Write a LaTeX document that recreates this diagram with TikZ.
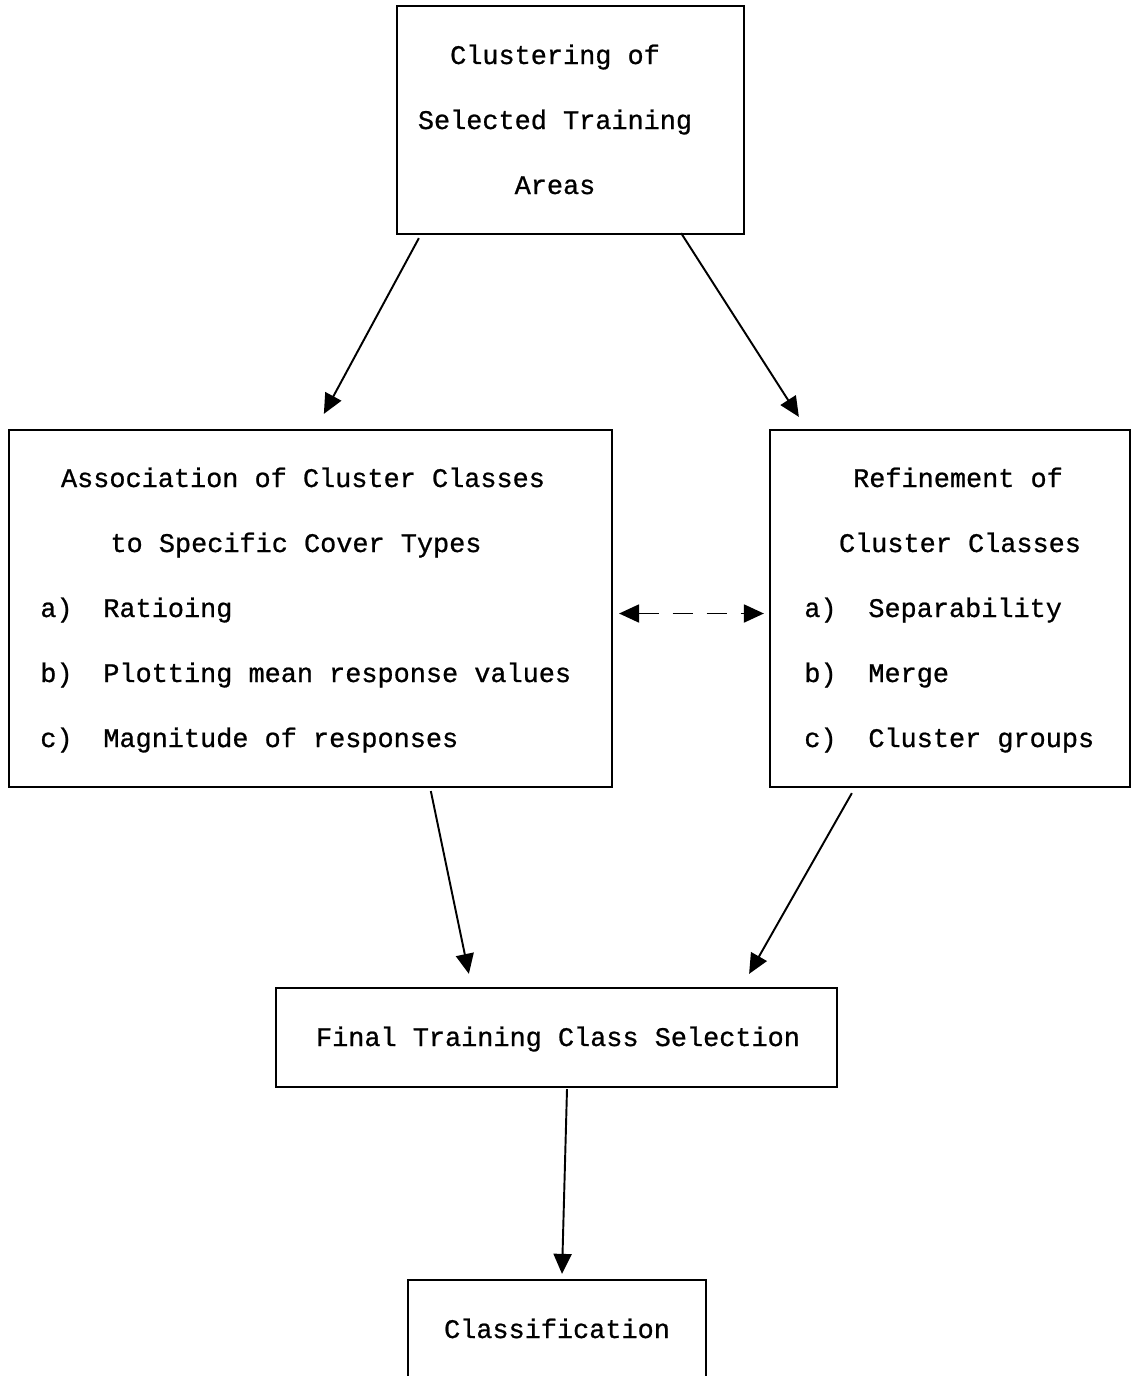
\documentclass[tikz,border=0pt]{standalone}
\usepackage{fontspec}
\setmainfont{Liberation Mono}[UprightFeatures={FakeBold=0.8}]
\usetikzlibrary{arrows.meta}
\tikzset{
  box/.style={draw, line width=1.3pt, inner sep=0pt},
  txt/.style={anchor=base, inner sep=0pt, font=\fontsize{15.3}{18}\selectfont},
  item/.style={txt, anchor=base west},
  flow/.style={line width=1.1pt, -{Triangle[length=0.4cm,width=0.36cm]}},
}
\begin{document}
\begin{tikzpicture}[x=0.02cm, y=-0.02cm]
        \useasboundingbox (0,0) rectangle (1132,1376);
        \clip (0,0) rectangle (1132,1376);

        % boxes
        \node[box, minimum width=6.94cm, minimum height=4.56cm] (cluster) at (570.5,120) {};
        \node[box, minimum width=12.06cm, minimum height=7.14cm] (assoc) at (310.5,608.5) {};
        \node[box, minimum width=7.2cm, minimum height=7.14cm] (refine) at (950,608.5) {};
        \node[box, minimum width=11.22cm, minimum height=1.98cm] (final) at (556.5,1037.5) {};
        \node[box, minimum width=5.96cm, minimum height=2.4cm] (classify) at (557,1340) {};

        % texts
        \foreach \t [count=\i from 0] in {Clustering of, Selected Training, Areas}
            \node[txt] (cluster\i) at (555,64+65*\i) {\t};

        \node[txt] (assoc0) at (303,487) {Association of Cluster Classes};
        \node[txt] (assoc1) at (296,552) {to Specific Cover Types};
        \foreach \l/\t [count=\i from 0] in {a)/Ratioing, b)/Plotting mean response values, c)/Magnitude of responses} {
            \node[item] (assocl\i) at (40,617+65*\i) {\l};
            \node[item] (assoct\i) at (103,617+65*\i) {\t};
        }

        \node[txt] (refine0) at (958,487) {Refinement of};
        \node[txt] (refine1) at (960,552) {Cluster Classes};
        \foreach \l/\t [count=\i from 0] in {a)/Separability, b)/Merge, c)/Cluster groups} {
            \node[item] (refinel\i) at (804,617+65*\i) {\l};
            \node[item] (refinet\i) at (868,617+65*\i) {\t};
        }

        \node[txt] (final0) at (558,1046) {Final Training Class Selection};
        \node[txt] (classify0) at (557,1338) {Classification};

        % arrows
        \draw[flow] ([xshift=0.46cm,yshift=-0.06cm]cluster.south west) -- ([xshift=6.32cm,yshift=0.3cm]assoc.north west);
        \draw[flow] ([xshift=-1.28cm,yshift=0.04cm]cluster.south east) -- ([xshift=0.6cm,yshift=0.24cm]refine.north west);
        \draw[flow, {Triangle[length=0.4cm,width=0.36cm]}-{Triangle[length=0.4cm,width=0.36cm]}, dash pattern=on 0.4cm off 0.28cm]
            ([xshift=0.12cm,yshift=-0.1cm]assoc.east) -- ([xshift=-0.1cm,yshift=-0.1cm]refine.west);
        \draw[flow] ([xshift=8.46cm,yshift=-0.06cm]assoc.south west) -- ([xshift=3.88cm,yshift=0.26cm]final.north west);
        \draw[flow] ([xshift=1.66cm,yshift=-0.1cm]refine.south west) -- ([xshift=-1.78cm,yshift=0.26cm]final.north east);
        \draw[flow] ([xshift=0.21cm,yshift=-0.02cm]final.south) -- ([xshift=0.1cm,yshift=0.1cm]classify.north);
    \end{tikzpicture}
\end{document}
